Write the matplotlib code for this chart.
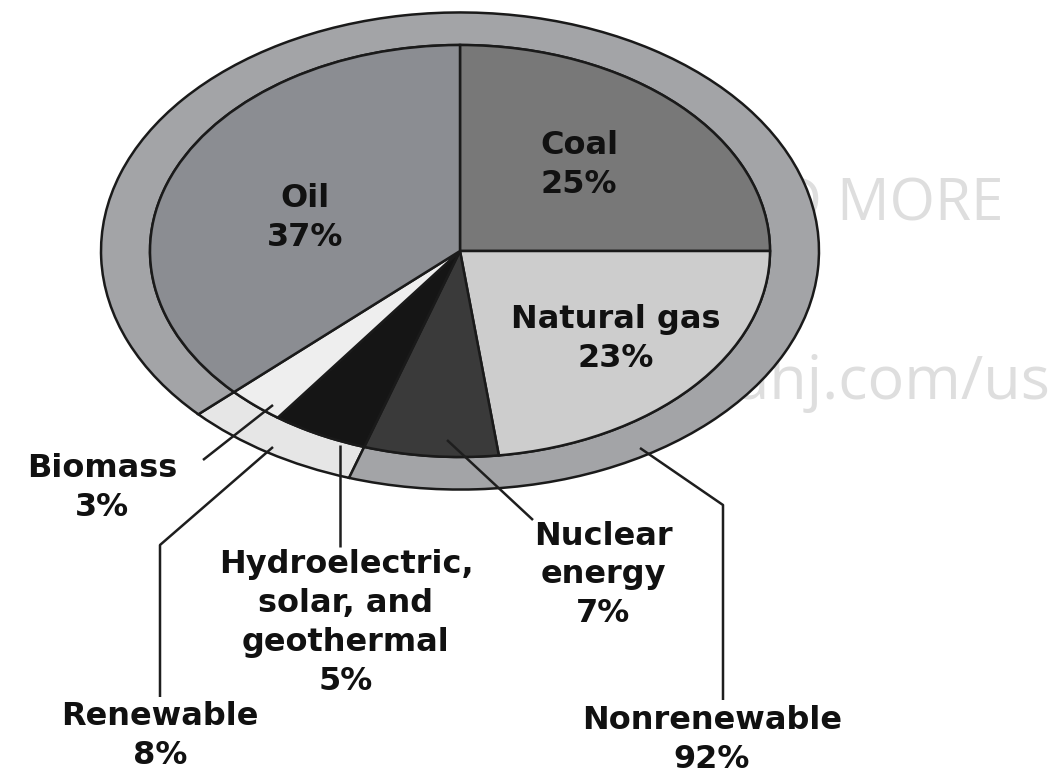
import matplotlib
matplotlib.use("Agg")
import matplotlib.pyplot as plt

# ---- data ----
sources = ["Coal", "Natural gas", "Nuclear\nenergy",
           "Hydroelectric,\nsolar, and\ngeothermal", "Biomass", "Oil"]
shares = [25, 23, 7, 5, 3, 37]
groups = ["Renewable", "Nonrenewable"]
group_shares = [8, 92]

inner_colors = ["#787878", "#cdcdcd", "#3a3a3a", "#151515", "#eeeeee", "#8b8d92"]
outer_colors = ["#e6e6e6", "#a3a4a7"]

W, H = 1053, 776
CX, CY, AX, AY = 460.0, 251.0, 310.0, 206.0


def P(px, py):
    return ((px - CX) / AX, (CY - py) / AY)


fig = plt.figure(figsize=(W / 100, H / 100), dpi=100)
ax = fig.add_axes([0, 0, 1, 1])

# watermark (behind the chart)
wm = "#dedede"
ax.text(*P(742, 205), "DOWNLOAD MORE", fontsize=42, color=wm, ha="center",
        va="center", family="Open Sans", zorder=0)
ax.text(*P(728, 270), "FROM", fontsize=17, color=wm, ha="center",
        va="center", family="Open Sans", zorder=0)
ax.text(*P(1050, 383), "Manahj.com/us", fontsize=44, color=wm, ha="right",
        va="center", family="Open Sans", zorder=0)

start_outer = 90 - 360 * sum(shares[:3]) / 100.0
ax.pie(group_shares, radius=1.158, startangle=start_outer, counterclock=False,
       colors=outer_colors,
       wedgeprops=dict(width=0.158, edgecolor="#1a1a1a", linewidth=1.8))
ax.pie(shares, radius=1.0, startangle=90, counterclock=False,
       colors=inner_colors,
       wedgeprops=dict(edgecolor="#1a1a1a", linewidth=1.8))

ax.set_aspect("auto")
ax.set_xlim(P(0, 0)[0], P(W, 0)[0])
ax.set_ylim(P(0, H)[1], P(0, 0)[1])
ax.axis("off")

tk = dict(fontsize=23, fontweight="bold", family="DejaVu Sans", color="#111111",
          ha="center", va="center", multialignment="center", linespacing=1.32,
          zorder=10)

label_pos = {
    "Coal": (579, 165),
    "Natural gas": (616, 339),
    "Nuclear\nenergy": (603, 575),
    "Hydroelectric,\nsolar, and\ngeothermal": (346, 623),
    "Biomass": (102, 488),
    "Oil": (305, 218),
}
for name, v in zip(sources, shares):
    ax.text(*P(*label_pos[name]), f"{name}\n{v}%", **tk)

group_pos = {"Renewable": (160, 736), "Nonrenewable": (712, 740)}
for name, v in zip(groups, group_shares):
    ax.text(*P(*group_pos[name]), f"{name}\n{v}%", **tk)

# leader lines
leaders = [
    [(203, 460), (273, 405)],                 # Biomass
    [(160, 697), (160, 545), (273, 447)],     # Renewable
    [(340, 547), (340, 445)],                 # Hydro
    [(533, 520), (447, 440)],                 # Nuclear
    [(723, 700), (723, 505), (640, 448)],     # Nonrenewable
]
for pts in leaders:
    xy = [P(*p) for p in pts]
    ax.plot([q[0] for q in xy], [q[1] for q in xy], color="#1e1e1e", lw=1.8,
            zorder=9, solid_capstyle="butt")

fig.savefig("out.png", dpi=100, facecolor="white")
